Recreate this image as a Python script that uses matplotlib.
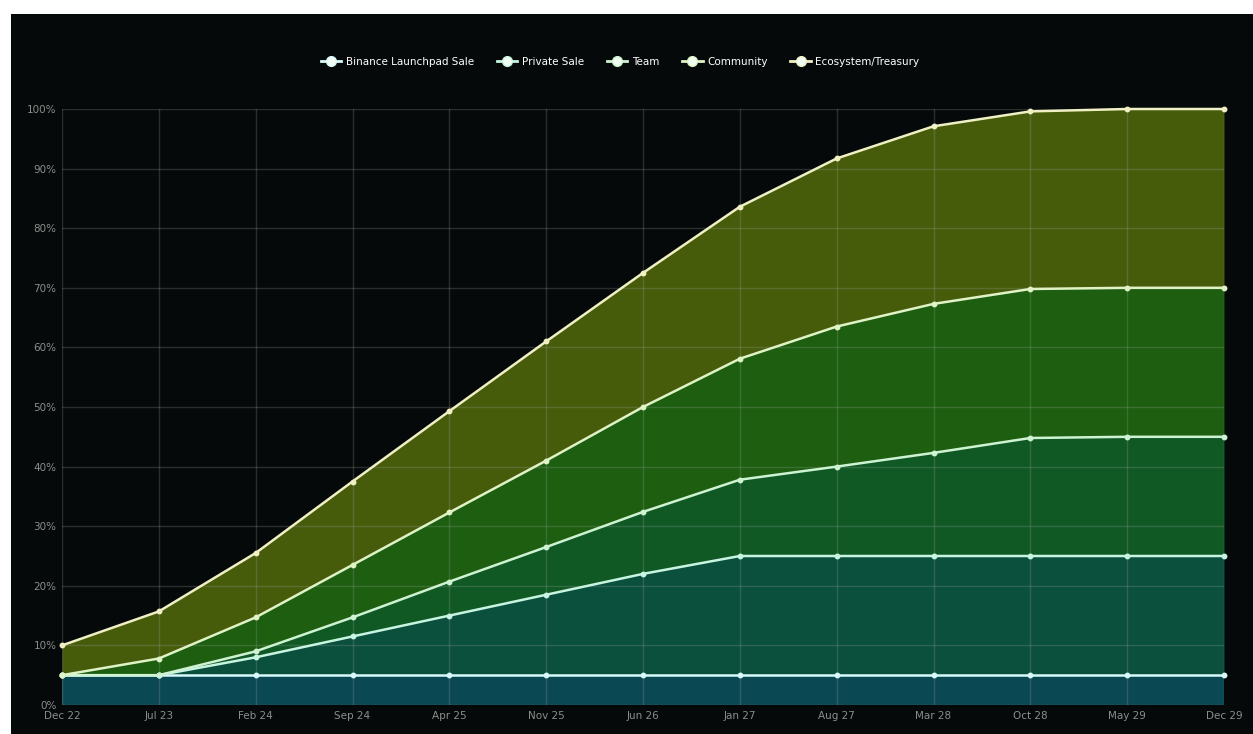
import numpy as np
import matplotlib.pyplot as plt
from matplotlib.lines import Line2D
from matplotlib.patches import Rectangle

# dates on the x axis
dates = ["Dec 22", "Jul 23", "Feb 24", "Sep 24", "Apr 25", "Nov 25", "Jun 26",
         "Jan 27", "Aug 27", "Mar 28", "Oct 28", "May 29", "Dec 29"]

# unlocked share of each allocation (percent of total supply), stacked
binance = [5, 5, 5, 5, 5, 5, 5, 5, 5, 5, 5, 5, 5]
private = [0, 0, 3, 6.5, 10, 13.5, 17, 20, 20, 20, 20, 20, 20]
team = [0, 0, 1, 3.2, 5.7, 8, 10.4, 12.8, 15, 17.3, 19.8, 20, 20]
community = [0, 2.8, 5.7, 8.8, 11.6, 14.5, 17.6, 20.3, 23.5, 25, 25, 25, 25]
ecosystem = [5, 7.9, 10.8, 14, 17, 20, 22.5, 25.5, 28.2, 29.8, 29.8, 30, 30]

names = ["Binance Launchpad Sale", "Private Sale", "Team", "Community", "Ecosystem/Treasury"]
series = [binance, private, team, community, ecosystem]
fills = ["#0a4854", "#0b4f3d", "#115924", "#1d5e10", "#465c0b"]
lines = ["#d8fafa", "#c8f5e2", "#cdf3d2", "#dff3c6", "#f0f0c4"]

fig = plt.figure(figsize=(12.53, 7.34), dpi=100, facecolor="white")
# dark panel (the screenshot has a thin white strip top/left)
fig.patches.append(Rectangle((11 / 1253, 0), 1, 1 - 14 / 734, transform=fig.transFigure,
                             facecolor="#050909", edgecolor="none", zorder=-5))

ax = fig.add_axes([62 / 1253, 1 - 705 / 734, (1224 - 62) / 1253, (705 - 109) / 734])
ax.set_facecolor("#050909")

x = np.arange(len(dates))
cum = np.cumsum(np.array(series, dtype=float), axis=0)
bottom = np.zeros(len(dates))
for i in range(len(series)):
    ax.fill_between(x, bottom, cum[i], color=fills[i], linewidth=0, zorder=1)
    bottom = cum[i]
for i in range(len(series) - 1, -1, -1):
    ax.plot(x, cum[i], color=lines[i], lw=1.8, marker="o", markersize=3.2, zorder=3 + i,
            clip_on=False)

ax.set_xlim(0, len(dates) - 1)
ax.set_ylim(0, 100)
ax.set_xticks(x)
ax.set_xticklabels(dates)
ax.set_yticks(np.arange(0, 101, 10))
ax.set_yticklabels([f"{v}%" for v in range(0, 101, 10)])
ax.tick_params(colors="#8a8f8c", labelsize=7.5, length=0, pad=4)
ax.grid(True, color="#9aa39e", alpha=0.25, lw=1)
ax.set_axisbelow(False)
for s in ax.spines.values():
    s.set_visible(False)

handles = [Line2D([0], [0], color=lines[i], lw=2, marker="o", markersize=7,
                  markerfacecolor="#f4fff4", markeredgecolor=lines[i]) for i in range(len(names))]
leg = fig.legend(handles, names, loc="center", bbox_to_anchor=(620 / 1253, 1 - 62 / 734),
                 ncol=5, frameon=False, fontsize=7.5, labelcolor="white",
                 handlelength=2.0, handletextpad=0.4, columnspacing=2.2)

fig.savefig("out.png", dpi=100, facecolor=fig.get_facecolor())
